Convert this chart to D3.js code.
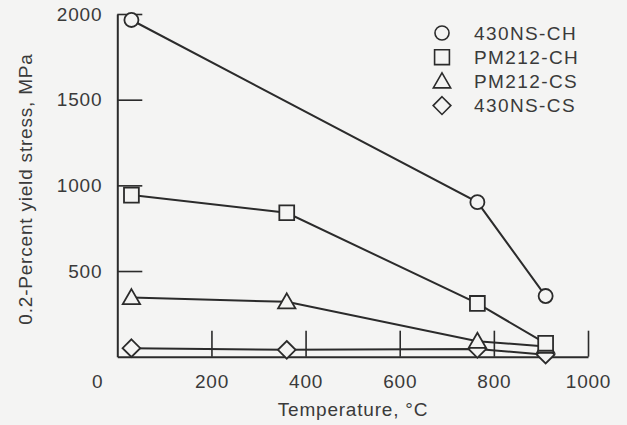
<!DOCTYPE html>
<html>
<head>
<meta charset="utf-8">
<script src="https://cdn.jsdelivr.net/npm/d3@7"></script>
<style>
  html, body { margin: 0; padding: 0; background: #f4f4f3; }
  svg { display: block; }
  text { font-family: "Liberation Sans", Arial, Helvetica, sans-serif; fill: #3a3a3a; }
</style>
</head>
<body>
<svg id="chart" width="627" height="425"></svg>
<script>
// Yield stress of the alloys versus test temperature
const temperature = [30, 360, 765, 910];
const ns430CHTemps = [30, 765, 910];
const ns430CH = [1965, 902, 354];
const pm212CH = [943, 840, 311, 78];
const pm212CS = [345, 320, 90, 60];
const ns430CS = [50, 40, 45, 12];

const seriesNames = ["430NS-CH", "PM212-CH", "PM212-CS", "430NS-CS"];
const seriesSymbols = ["circle", "square", "triangle", "diamond"];

const xTicks = [0, 200, 400, 600, 800, 1000];
const yTicks = [500, 1000, 1500, 2000];

const series = [
  { name: seriesNames[0], symbol: seriesSymbols[0], temps: ns430CHTemps, values: ns430CH },
  { name: seriesNames[1], symbol: seriesSymbols[1], temps: temperature, values: pm212CH },
  { name: seriesNames[2], symbol: seriesSymbols[2], temps: temperature, values: pm212CS },
  { name: seriesNames[3], symbol: seriesSymbols[3], temps: temperature, values: ns430CS }
];

const ink = "#2b2b2b";
const bg = "#f4f4f3";
const svg = d3.select("#chart");

const x = d3.scaleLinear().domain([0, 1000]).range([117.3, 588]);
const y = d3.scaleLinear().domain([0, 2000]).range([356.7, 14]);

// Axes with inward ticks
const yAxis = d3.axisLeft(y).tickValues(yTicks).tickFormat(d3.format("d"))
  .tickSizeInner(-25).tickSizeOuter(0).tickPadding(15);
const xAxis = d3.axisBottom(x).tickValues(xTicks).tickFormat(d3.format("d"))
  .tickSizeInner(-26).tickSizeOuter(0).tickPadding(18);

const gy = svg.append("g").attr("transform", `translate(${x(0)},0)`).call(yAxis);
const gx = svg.append("g").attr("transform", `translate(0,${y(0)})`).call(xAxis);

[gy, gx].forEach(g => {
  g.select(".domain").attr("stroke", ink).attr("stroke-width", 2);
  g.selectAll(".tick line").attr("stroke", ink).attr("stroke-width", 1.6);
  g.selectAll(".tick text")
    .attr("fill", "#3a3a3a")
    .style("font-size", "19px")
    .style("letter-spacing", "0.8px")
    .style("font-family", "'Liberation Sans', Arial, sans-serif");
});
// origin label sits left of the axis corner
gx.selectAll(".tick").filter(d => d === 0).select("text").attr("dx", -20);
gx.selectAll(".tick").filter(d => d === 0).select("line").remove();

// Axis titles
svg.append("text")
  .attr("x", 353).attr("y", 416)
  .attr("text-anchor", "middle")
  .style("font-size", "19px")
  .style("letter-spacing", "0.8px")
  .text("Temperature, °C");

svg.append("text")
  .attr("transform", "translate(32,189) rotate(-90)")
  .attr("text-anchor", "middle")
  .style("font-size", "19px")
  .style("letter-spacing", "0.8px")
  .text("0.2-Percent yield stress, MPa");

// Marker shapes
const symbolType = {
  circle: d3.symbolCircle,
  square: d3.symbolSquare,
  triangle: d3.symbolTriangle,
  diamond: d3.symbolDiamond2
};
const symbolSize = { circle: 155, square: 220, triangle: 130, diamond: 200 };
function symbolPath(s) {
  return d3.symbol().type(symbolType[s]).size(symbolSize[s])();
}

const line = d3.line().x(d => x(d[0])).y(d => y(d[1]));

// Lines first, then hollow markers on top
series.forEach(s => {
  const pts = s.temps.map((t, i) => [t, s.values[i]]);
  svg.append("path")
    .attr("d", line(pts))
    .attr("fill", "none")
    .attr("stroke", ink)
    .attr("stroke-width", 2);
});

series.slice().reverse().forEach(s => {
  const pts = s.temps.map((t, i) => [t, s.values[i]]);
  svg.append("g").selectAll("path")
    .data(pts)
    .join("path")
    .attr("d", symbolPath(s.symbol))
    .attr("transform", d => `translate(${x(d[0])},${y(d[1]) + (s.symbol === "triangle" ? 1.5 : 0)})`)
    .attr("fill", bg)
    .attr("stroke", ink)
    .attr("stroke-width", 1.8);
});

// Legend
const legend = svg.append("g").attr("transform", "translate(442,33)");
series.forEach((s, i) => {
  const row = legend.append("g").attr("transform", `translate(0,${i * 24.2})`);
  row.append("path")
    .attr("d", symbolPath(s.symbol))
    .attr("transform", s.symbol === "triangle" ? "translate(0,1.5)" : null)
    .attr("fill", bg)
    .attr("stroke", ink)
    .attr("stroke-width", 1.6);
  row.append("text")
    .attr("x", 32).attr("y", 0).attr("dy", "0.35em")
    .style("font-size", "19px")
    .style("letter-spacing", "1.4px")
    .text(s.name);
});
</script>
</body>
</html>
